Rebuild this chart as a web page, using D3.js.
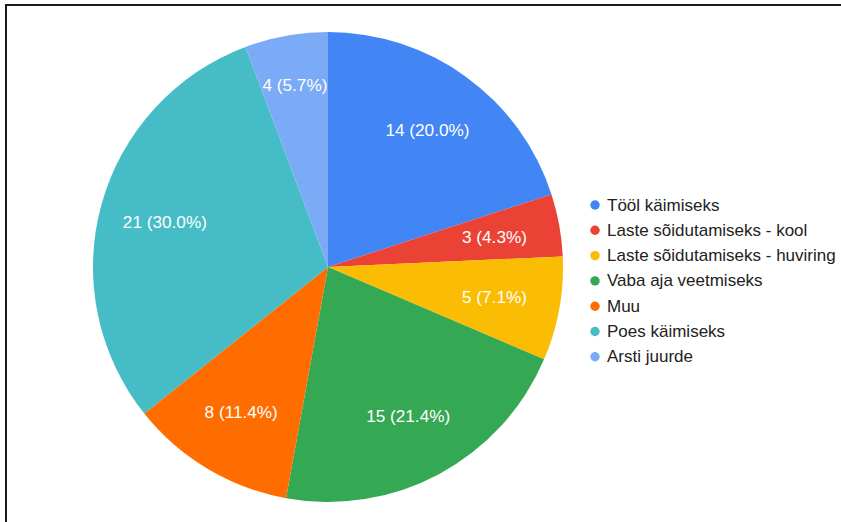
<!DOCTYPE html>
<html>
<head>
<meta charset="utf-8">
<script src="https://cdn.jsdelivr.net/npm/d3@7"></script>
<style>
  html, body { margin: 0; padding: 0; background: #fff; }
  svg { display: block; }
  text { font-family: "Liberation Sans", Arial, Helvetica, sans-serif; }
</style>
</head>
<body>
<svg id="chart" width="841" height="522"></svg>
<script>
// Survey answers: purpose of trips
const categories = [
  "Tööl käimiseks",
  "Laste sõidutamiseks - kool",
  "Laste sõidutamiseks - huviring",
  "Vaba aja veetmiseks",
  "Muu",
  "Poes käimiseks",
  "Arsti juurde"
];
const counts = [14, 3, 5, 15, 8, 21, 4];
const colors = ["#4285F4", "#EA4335", "#FBBC04", "#34A853", "#FF6D01", "#46BDC6", "#7BAAF7"];

const width = 841, height = 522;
const cx = 328, cy = 267, R = 235;
const svg = d3.select("#chart");

// Frame lines (top and left)
svg.append("path")
  .attr("d", `M6,${height} V5 H${width}`)
  .attr("fill", "none")
  .attr("stroke", "#1a1a1a")
  .attr("stroke-width", 2);

const data = categories.map((c, i) => ({ name: c, value: counts[i], color: colors[i] }));
const total = d3.sum(counts);

const pie = d3.pie().value(d => d.value).sort(null);
const arcs = pie(data);
const arc = d3.arc().innerRadius(0).outerRadius(R);

const g = svg.append("g").attr("transform", `translate(${cx},${cy})`);

g.selectAll("path.slice")
  .data(arcs)
  .join("path")
  .attr("class", "slice")
  .attr("d", arc)
  .attr("fill", d => d.data.color);

// Slice labels: placed on the bisector, pushed outward until the text box fits in the wedge
const fmt = d3.format(".1f");
const labels = g.selectAll("text.lbl")
  .data(arcs)
  .join("text")
  .attr("class", "lbl")
  .attr("fill", "#fff")
  .attr("font-size", 17.2)
  .attr("text-anchor", "middle")
  .attr("dominant-baseline", "central")
  .text(d => `${d.data.value} (${fmt(d.data.value / total * 100)}%)`);

labels.each(function(d) {
  const bb = this.getBBox();
  const w = bb.width, h = bb.height * 0.75;
  const mid = (d.startAngle + d.endAngle) / 2;
  const inside = (x, y) => {
    let a = Math.atan2(x, -y);
    if (a < 0) a += 2 * Math.PI;
    return a >= d.startAngle && a <= d.endAngle && Math.hypot(x, y) <= R;
  };
  let r = R * 0.72;
  for (; r < R; r += 1) {
    const x = Math.sin(mid) * r, y = -Math.cos(mid) * r;
    const corners = [[x - w / 2, y - h / 2], [x + w / 2, y - h / 2], [x - w / 2, y + h / 2], [x + w / 2, y + h / 2]];
    if (corners.every(([px, py]) => inside(px, py))) break;
  }
  d3.select(this)
    .attr("x", Math.sin(mid) * r)
    .attr("y", -Math.cos(mid) * r);
});

// Legend
const legend = svg.append("g").attr("transform", "translate(595,205)");
const rowH = 25.3;
const rows = legend.selectAll("g.row")
  .data(data)
  .join("g")
  .attr("class", "row")
  .attr("transform", (d, i) => `translate(0,${i * rowH})`);

rows.append("circle")
  .attr("r", 4.7)
  .attr("fill", d => d.color);

rows.append("text")
  .attr("x", 12)
  .attr("dominant-baseline", "central")
  .attr("font-size", 17)
  .attr("fill", "#222")
  .text(d => d.name);
</script>
</body>
</html>
